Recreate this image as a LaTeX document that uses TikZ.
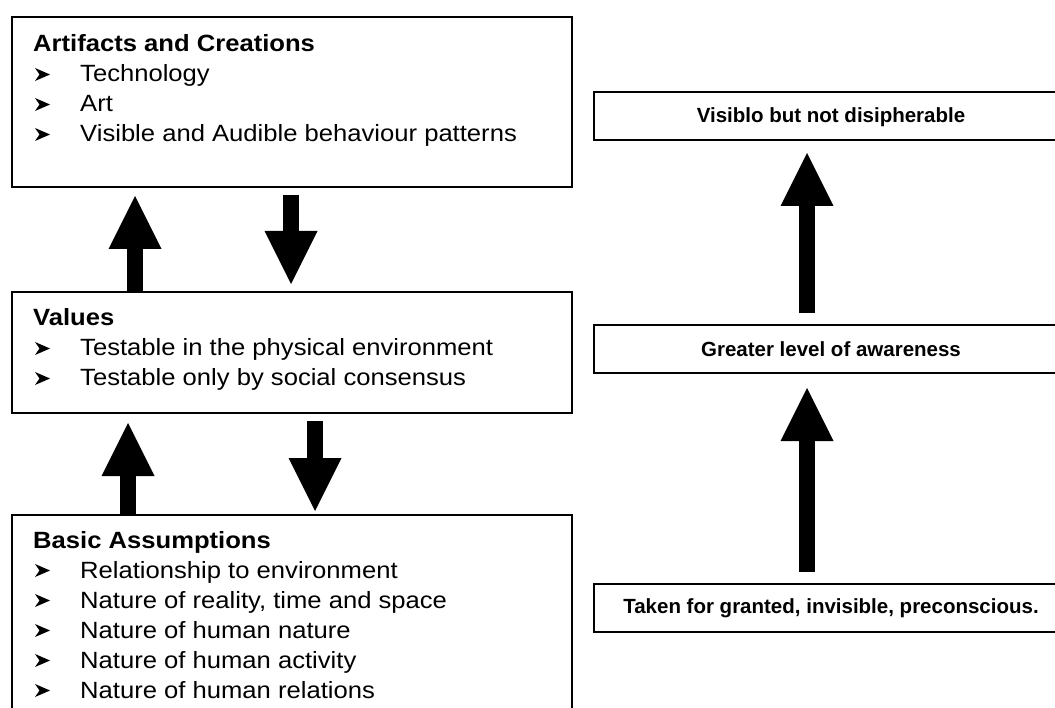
\documentclass[tikz,border=0pt]{standalone}
\usepackage{fontspec}
\setmainfont{Liberation Sans}
\newfontfamily\widesans{Liberation Sans}[FakeStretch=1.09]
\usetikzlibrary{arrows.meta,calc}

\tikzset{
  frame/.style={draw, line width=2pt, rectangle, inner sep=0pt},
  headtext/.style={anchor=base west, inner sep=0pt,
    font=\widesans\bfseries\fontsize{23.5pt}{28pt}\selectfont},
  itemtext/.style={anchor=base west, inner sep=0pt,
    font=\widesans\fontsize{23.5pt}{28pt}\selectfont},
  levellabel/.style={anchor=base, inner sep=0pt,
    font=\bfseries\fontsize{20.5pt}{24pt}\selectfont},
  blockarrow/.style={line width=16pt,
    -{Triangle[width=53pt,length=53pt,line width=0pt]}},
  bulletdart/.pic={\fill (0,-1) -- (15,-7.5) -- (0,-14) -- (4.5,-7.5) -- cycle;}
}

\begin{document}
\begin{tikzpicture}[x=1pt,y=-1pt]
\useasboundingbox (0,0) rectangle (1055,708);
\clip (0,0) rectangle (1055,708);
\fill[white] (0,0) rectangle (1055,708);

% the three levels of culture
\node[frame, minimum width=560pt, minimum height=170pt] (art) at (292,102) {};
\node[frame, minimum width=560pt, minimum height=121pt] (val) at (292,352.5) {};
\node[frame, minimum width=560pt, minimum height=210pt] (bas) at (292,620) {};

% awareness scale
\node[frame, minimum width=476pt, minimum height=48pt] (vis) at (832,116) {};
\node[frame, minimum width=476pt, minimum height=48pt] (grt) at (832,349) {};
\node[frame, minimum width=476pt, minimum height=48pt] (tak) at (832,608) {};

% artifacts
\node[headtext] (artH) at (33,52) {Artifacts and Creations};
\pic at (35,82) {bulletdart};
\node[itemtext] (artA) at (80,82) {Technology};
\pic at (35,112) {bulletdart};
\node[itemtext] (artB) at (80,112) {Art};
\pic at (35,142) {bulletdart};
\node[itemtext] (artC) at (80,142) {Visible and Audible behaviour patterns};

% values
\node[headtext] (valH) at (33,326) {Values};
\pic at (35,356) {bulletdart};
\node[itemtext] (valA) at (80,356) {Testable in the physical environment};
\pic at (35,386) {bulletdart};
\node[itemtext] (valB) at (80,386) {Testable only by social consensus};

% basic assumptions
\node[headtext] (basH) at (33,548) {Basic Assumptions};
\pic at (35,578) {bulletdart};
\node[itemtext] (basA) at (80,578) {Relationship to environment};
\pic at (35,608) {bulletdart};
\node[itemtext] (basB) at (80,608) {Nature of reality, time and space};
\pic at (35,638) {bulletdart};
\node[itemtext] (basC) at (80,638) {Nature of human nature};
\pic at (35,668) {bulletdart};
\node[itemtext] (basD) at (80,668) {Nature of human activity};
\pic at (35,698) {bulletdart};
\node[itemtext] (basE) at (80,698) {Nature of human relations};

% awareness labels
\node[levellabel] (visT) at (831,123) {Visiblo but not disipherable};
\node[levellabel] (grtT) at (831,357) {Greater level of awareness};
\node[levellabel] (takT) at (831,613) {Taken for granted, invisible, preconscious.};

% arrow columns
\coordinate (xa1) at (135,0);
\coordinate (xa2) at (291,0);
\coordinate (xa3) at (128,0);
\coordinate (xa4) at (315,0);
\coordinate (xr) at (807,0);

\draw[blockarrow] (val.north -| xa1) -- ($(art.south -| xa1)+(0,8)$);
\draw[blockarrow] ($(art.south -| xa2)+(0,7)$) -- ($(val.north -| xa2)+(0,-7)$);
\draw[blockarrow] (bas.north -| xa3) -- ($(val.south -| xa3)+(0,9)$);
\draw[blockarrow] ($(val.south -| xa4)+(0,7)$) -- ($(bas.north -| xa4)+(0,-3)$);
\draw[blockarrow] ($(grt.north -| xr)+(0,-11)$) -- ($(vis.south -| xr)+(0,12)$);
\draw[blockarrow] ($(tak.north -| xr)+(0,-11)$) -- ($(grt.south -| xr)+(0,14)$);
\end{tikzpicture}
\end{document}
